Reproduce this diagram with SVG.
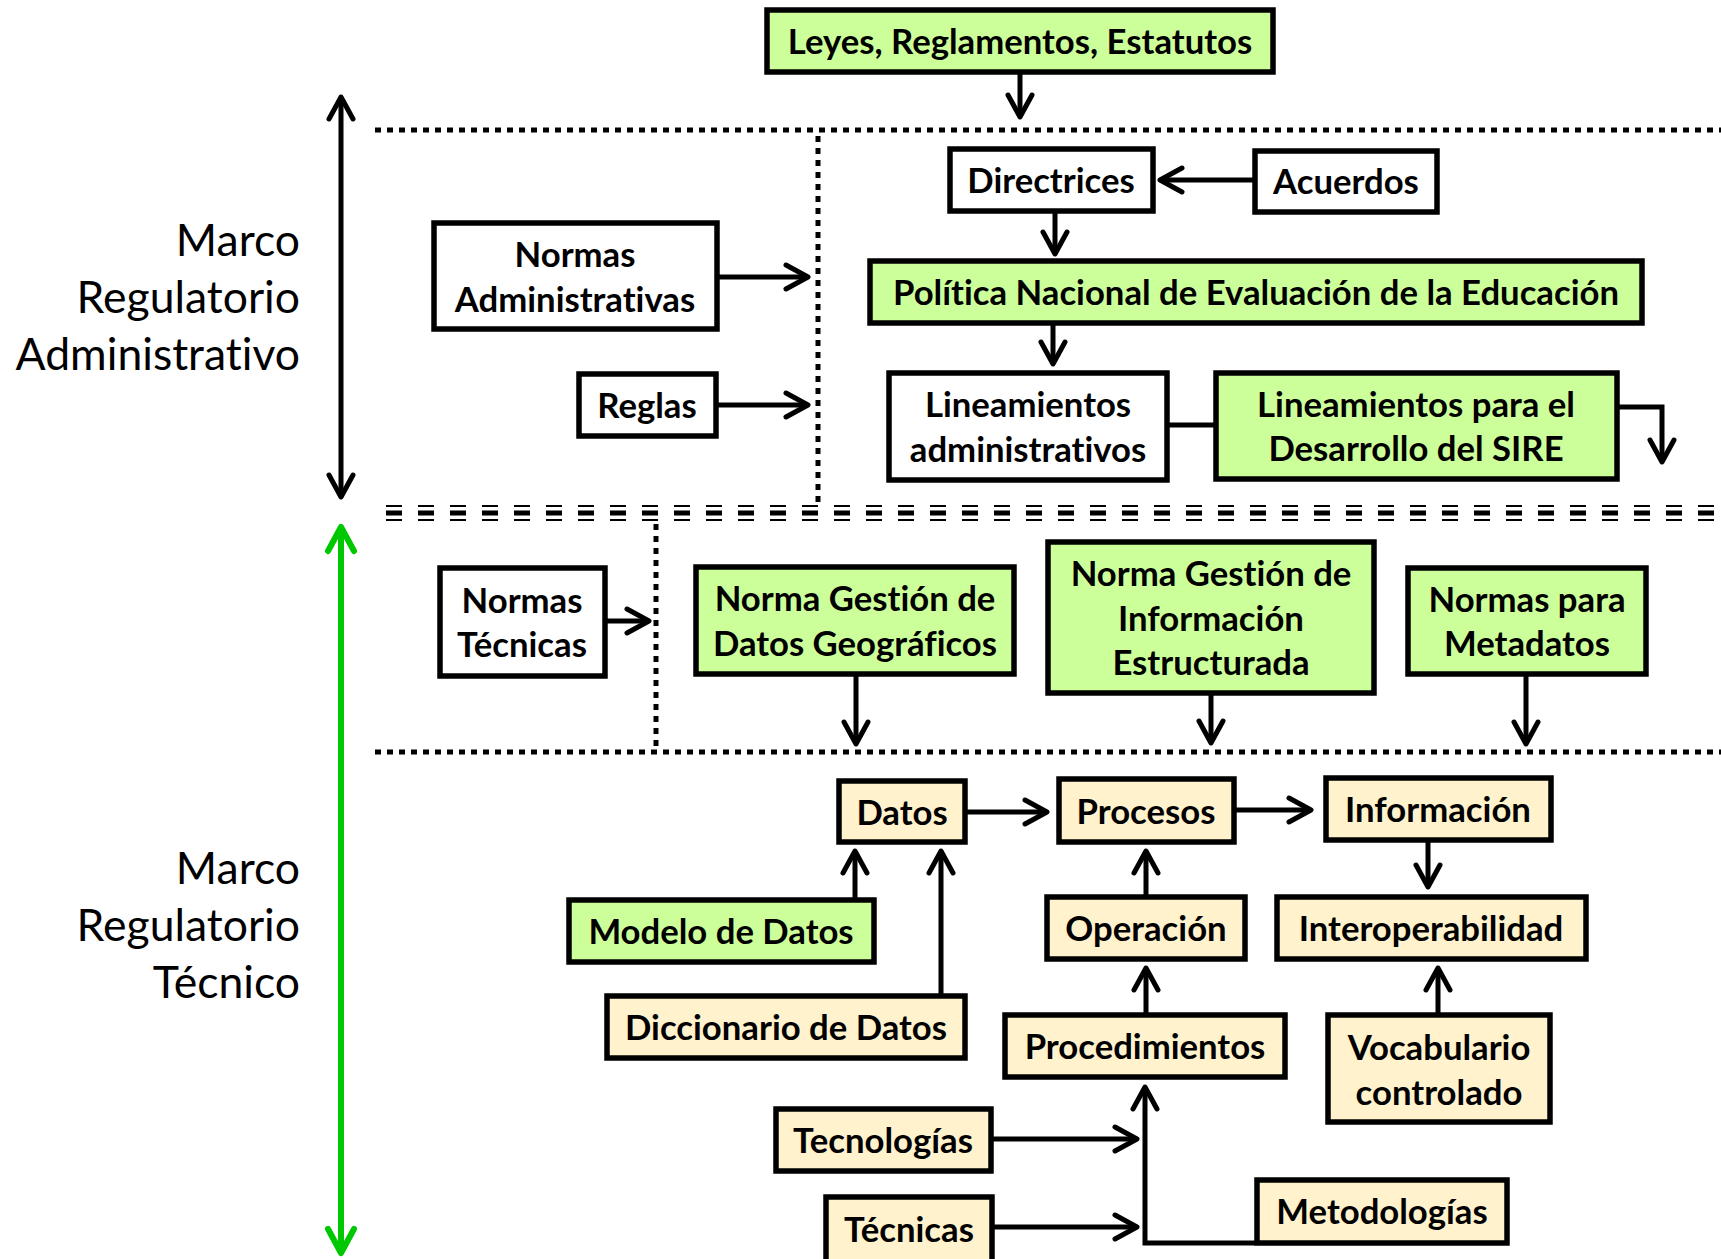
<svg xmlns="http://www.w3.org/2000/svg" width="1721" height="1259" viewBox="0 0 1721 1259">
<defs>
<style>
.b{stroke:#000;stroke-width:5.5}
.w{fill:#fff}
.g{fill:#ccff99}
.y{fill:#fff2cc}
.t{font-family:Lato,"Open Sans","Liberation Sans",sans-serif;font-weight:bold;font-size:34.7px;text-anchor:middle;fill:#000;font-variant-ligatures:none}
.m{font-family:Lato,"Open Sans","Liberation Sans",sans-serif;font-size:44.5px;text-anchor:end;fill:#000;font-variant-ligatures:none}
.c{fill:none;stroke:#000;stroke-width:5}
.dot{fill:none;stroke:#000;stroke-width:5;stroke-dasharray:6 6}
</style>
<marker id="a" markerUnits="userSpaceOnUse" viewBox="-30 -16 36 32" refX="0" refY="0" markerWidth="36" markerHeight="32" orient="auto-start-reverse" overflow="visible">
<path d="M-22,-12 L0,0 L-22,12" fill="none" stroke="#000" stroke-width="5" stroke-linecap="round" stroke-linejoin="round"/>
</marker>
<marker id="ag" markerUnits="userSpaceOnUse" viewBox="-30 -16 36 32" refX="0" refY="0" markerWidth="36" markerHeight="32" orient="auto-start-reverse" overflow="visible">
<path d="M-24,-13 L0,0 L-24,13" fill="none" stroke="#00c800" stroke-width="6" stroke-linecap="round" stroke-linejoin="round"/>
</marker>
</defs>
<rect width="1721" height="1259" fill="#fff"/>

<g id="separators">
<line class="dot" x1="375" y1="130" x2="1721" y2="130"/>
<line class="dot" x1="818" y1="136" x2="818" y2="503"/>
<line x1="386" y1="506" x2="1721" y2="506" stroke="#000" stroke-width="2" stroke-dasharray="16 16"/>
<line x1="386" y1="513" x2="1721" y2="513" stroke="#000" stroke-width="5" stroke-dasharray="16 16"/>
<line x1="386" y1="520" x2="1721" y2="520" stroke="#000" stroke-width="2" stroke-dasharray="16 16"/>
<line class="dot" x1="656" y1="524" x2="656" y2="752"/>
<line class="dot" x1="375" y1="752" x2="1721" y2="752"/>
</g>

<g id="labels">
<text class="m" x="300" y="256">Marco</text>
<text class="m" x="300" y="313">Regulatorio</text>
<text class="m" x="300" y="370">Administrativo</text>
<text class="m" x="300" y="884">Marco</text>
<text class="m" x="300" y="941">Regulatorio</text>
<text class="m" x="300" y="998">Técnico</text>
</g>

<g id="connectors">
<path class="c" d="M341,497 V97" marker-start="url(#a)" marker-end="url(#a)"/>
<path d="M341,1253 V527" fill="none" stroke="#00c800" stroke-width="6" marker-start="url(#ag)" marker-end="url(#ag)"/>
<path class="c" d="M1020,74 V117" marker-end="url(#a)"/>
<path class="c" d="M719,277 H808" marker-end="url(#a)"/>
<path class="c" d="M718,405 H808" marker-end="url(#a)"/>
<path class="c" d="M1253,180 H1160" marker-end="url(#a)"/>
<path class="c" d="M1055,213 V254" marker-end="url(#a)"/>
<path class="c" d="M1053,325 V364" marker-end="url(#a)"/>
<path class="c" d="M1169,425 H1214"/>
<path class="c" d="M1619,407 H1662 V462" marker-end="url(#a)"/>
<path class="c" d="M607,621 H649" marker-end="url(#a)"/>
<path class="c" d="M856,676 V744" marker-end="url(#a)"/>
<path class="c" d="M1211,695 V743" marker-end="url(#a)"/>
<path class="c" d="M1526,676 V744" marker-end="url(#a)"/>
<path class="c" d="M967,812 H1047" marker-end="url(#a)"/>
<path class="c" d="M1236,810 H1311" marker-end="url(#a)"/>
<path class="c" d="M1428,842 V887" marker-end="url(#a)"/>
<path class="c" d="M1438,1013 V968" marker-end="url(#a)"/>
<path class="c" d="M1146,895 V851" marker-end="url(#a)"/>
<path class="c" d="M1146,1013 V968" marker-end="url(#a)"/>
<path class="c" d="M855,898 V851" marker-end="url(#a)"/>
<path class="c" d="M941,994 V851" marker-end="url(#a)"/>
<path class="c" d="M993,1139 H1137" marker-end="url(#a)"/>
<path class="c" d="M993,1227 H1137" marker-end="url(#a)"/>
<path class="c" d="M1255,1243 H1145 V1087" marker-end="url(#a)"/>
</g>

<g id="n-leyes"><rect class="b g" x="767" y="10" width="506" height="62"/><text class="t" x="1020" y="54">Leyes, Reglamentos, Estatutos</text></g>
<g id="n-directrices"><rect class="b w" x="950" y="149" width="203" height="62"/><text class="t" x="1051" y="193">Directrices</text></g>
<g id="n-acuerdos"><rect class="b w" x="1255" y="151" width="182" height="61"/><text class="t" x="1346" y="194">Acuerdos</text></g>
<g id="n-politica"><rect class="b g" x="870" y="261" width="772" height="62"/><text class="t" x="1256" y="305">Política Nacional de Evaluación de la Educación</text></g>
<g id="n-normas-adm"><rect class="b w" x="434" y="223" width="283" height="106"/><text class="t" x="575" y="267">Normas</text><text class="t" x="575" y="312">Administrativas</text></g>
<g id="n-reglas"><rect class="b w" x="579" y="374" width="137" height="62"/><text class="t" x="647" y="418">Reglas</text></g>
<g id="n-lin-adm"><rect class="b w" x="889" y="373" width="278" height="107"/><text class="t" x="1028" y="417">Lineamientos</text><text class="t" x="1028" y="462">administrativos</text></g>
<g id="n-sire"><rect class="b g" x="1216" y="373" width="401" height="106"/><text class="t" x="1416" y="417">Lineamientos para el</text><text class="t" x="1416" y="461">Desarrollo del SIRE</text></g>
<g id="n-normas-tec"><rect class="b w" x="440" y="568" width="165" height="108"/><text class="t" x="522" y="613">Normas</text><text class="t" x="522" y="657">Técnicas</text></g>
<g id="n-ngdg"><rect class="b g" x="696" y="567" width="318" height="107"/><text class="t" x="855" y="611">Norma Gestión de</text><text class="t" x="855" y="656">Datos Geográficos</text></g>
<g id="n-ngie"><rect class="b g" x="1048" y="542" width="326" height="151"/><text class="t" x="1211" y="586">Norma Gestión de</text><text class="t" x="1211" y="631">Información</text><text class="t" x="1211" y="675">Estructurada</text></g>
<g id="n-npm"><rect class="b g" x="1408" y="568" width="238" height="106"/><text class="t" x="1527" y="612">Normas para</text><text class="t" x="1527" y="656">Metadatos</text></g>
<g id="n-datos"><rect class="b y" x="839" y="781" width="126" height="61"/><text class="t" x="902" y="825">Datos</text></g>
<g id="n-procesos"><rect class="b y" x="1059" y="779" width="175" height="63"/><text class="t" x="1146" y="824">Procesos</text></g>
<g id="n-informacion"><rect class="b y" x="1326" y="778" width="225" height="62"/><text class="t" x="1438" y="822">Información</text></g>
<g id="n-interop"><rect class="b y" x="1277" y="897" width="309" height="62"/><text class="t" x="1431" y="941">Interoperabilidad</text></g>
<g id="n-operacion"><rect class="b y" x="1047" y="897" width="198" height="62"/><text class="t" x="1146" y="941">Operación</text></g>
<g id="n-modelo"><rect class="b g" x="569" y="900" width="305" height="62"/><text class="t" x="721" y="944">Modelo de Datos</text></g>
<g id="n-diccionario"><rect class="b y" x="607" y="996" width="358" height="62"/><text class="t" x="786" y="1040">Diccionario de Datos</text></g>
<g id="n-procedimientos"><rect class="b y" x="1005" y="1015" width="280" height="62"/><text class="t" x="1145" y="1059">Procedimientos</text></g>
<g id="n-vocabulario"><rect class="b y" x="1328" y="1015" width="222" height="107"/><text class="t" x="1439" y="1060">Vocabulario</text><text class="t" x="1439" y="1105">controlado</text></g>
<g id="n-tecnologias"><rect class="b y" x="776" y="1109" width="215" height="62"/><text class="t" x="883" y="1153">Tecnologías</text></g>
<g id="n-tecnicas"><rect class="b y" x="826" y="1197" width="166" height="80"/><text class="t" x="909" y="1242">Técnicas</text></g>
<g id="n-metodologias"><rect class="b y" x="1257" y="1180" width="250" height="63"/><text class="t" x="1382" y="1224">Metodologías</text></g>
</svg>
